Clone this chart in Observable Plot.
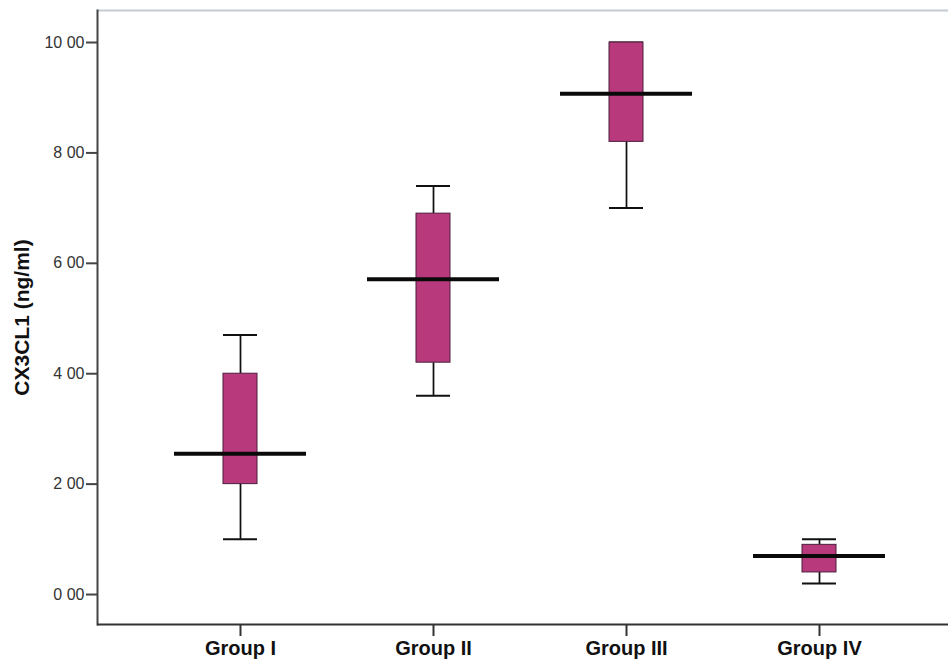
<!DOCTYPE html>
<html>
<head>
<meta charset="utf-8">
<script src="https://cdn.jsdelivr.net/npm/d3@7"></script>
<script src="https://cdn.jsdelivr.net/npm/@observablehq/plot@0.6"></script>
<style>
  html, body { margin: 0; padding: 0; background: #ffffff; }
  #chart { width: 948px; height: 659px; }
  svg { font-family: "Liberation Sans", Arial, sans-serif; }
</style>
</head>
<body>
<div id="chart"></div>
<script>
const groups = ["Group I", "Group II", "Group III", "Group IV"];
const mins    = [1.0, 3.6, 7.0, 0.2];
const q1s     = [2.0, 4.2, 8.2, 0.4];
const medians = [2.55, 5.71, 9.07, 0.7];
const q3s     = [4.0, 6.9, 10.0, 0.9];
const maxs    = [4.7, 7.4, 10.0, 1.0];
const yTicks = [0, 2, 4, 6, 8, 10];
const yTickLabels = ["0 00", "2 00", "4 00", "6 00", "8 00", "10 00"];
const yTitle = "CX3CL1 (ng/ml)";

const data = groups.map((g, i) => ({group: g, min: mins[i], q1: q1s[i], median: medians[i], q3: q3s[i], max: maxs[i]}));
const yDomain = [-0.543, 10.58];

const chart = Plot.plot({
  width: 948,
  height: 659,
  marginLeft: 97,
  marginRight: 0,
  marginTop: 10,
  marginBottom: 35,
  x: {type: "band", domain: groups, range: [221, 837], paddingInner: 0.8247, paddingOuter: 0},
  y: {domain: yDomain},
  marks: [
    Plot.ruleY([yDomain[1]], {stroke: "#c3cbd3", strokeWidth: 2}),
    Plot.frame({anchor: "left", stroke: "#444", strokeWidth: 2}),
    Plot.ruleY([yDomain[0]], {stroke: "#333", strokeWidth: 2}),
    Plot.axisY({ticks: yTicks, tickFormat: (d) => yTickLabels[yTicks.indexOf(d)], tickSize: 11, tickPadding: 2, fontSize: 16, strokeWidth: 2, stroke: "#444", color: "#333", label: null}),
    Plot.axisX({tickSize: 12, tickPadding: 4, fontSize: 20, fontWeight: "bold", strokeWidth: 2, stroke: "#333", color: "#111", label: null}),
    Plot.text([yTitle], {frameAnchor: "left", textAnchor: "middle", text: (d) => d, rotate: -90, dx: -75, fontSize: 21, fontWeight: "bold", fill: "#111"}),
    Plot.ruleX(data, {x: "group", y1: "min", y2: "q1", stroke: "#111", strokeWidth: 1.75}),
    Plot.ruleX(data, {x: "group", y1: "q3", y2: "max", stroke: "#111", strokeWidth: 1.75}),
    Plot.tickY(data, {x: "group", y: "min", stroke: "#111", strokeWidth: 2}),
    Plot.tickY(data, {x: "group", y: "max", stroke: "#111", strokeWidth: 2}),
    Plot.barY(data, {x: "group", y1: "q1", y2: "q3", fill: "#b9397d", stroke: "#4a1f3c", strokeWidth: 1}),
    Plot.tickY(data, {x: "group", y: "median", stroke: "#0a0a0a", strokeWidth: 4, insetLeft: -49, insetRight: -49})
  ]
});
document.getElementById("chart").appendChild(chart);
</script>
</body>
</html>
